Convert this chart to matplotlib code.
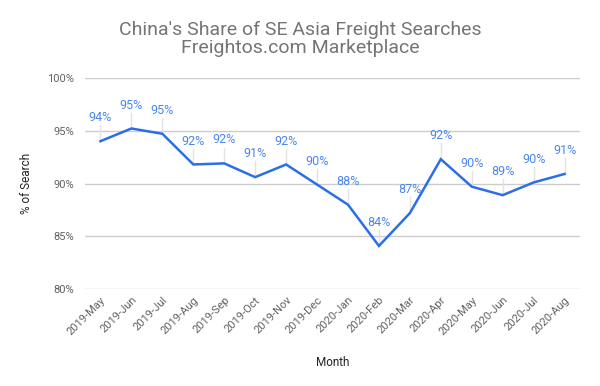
import matplotlib
matplotlib.use("Agg")
import matplotlib.pyplot as plt
from matplotlib.ticker import FuncFormatter

months = ["2019-May", "2019-Jun", "2019-Jul", "2019-Aug", "2019-Sep", "2019-Oct",
          "2019-Nov", "2019-Dec", "2020-Jan", "2020-Feb", "2020-Mar", "2020-Apr",
          "2020-May", "2020-Jun", "2020-Jul", "2020-Aug"]
share = [94.0, 95.2, 94.7, 91.8, 91.9, 90.6, 91.8, 89.9, 88.0, 84.1, 87.2, 92.3,
         89.7, 88.9, 90.1, 90.9]
labels = ["94%", "95%", "95%", "92%", "92%", "91%", "92%", "90%", "88%", "84%",
          "87%", "92%", "90%", "89%", "90%", "91%"]
yticks = [80, 85, 90, 95, 100]

plt.rcParams['font.family'] = ['Roboto', 'DejaVu Sans']

fig = plt.figure(figsize=(6, 3.86), dpi=100)
ax = fig.add_axes([0.1417, 0.2505, 0.825, 0.5482])

x = list(range(len(months)))
line_color = "#2a6fe6"
label_color = "#4a86ee"
grey = "#757575"

ax.plot(x, share, color=line_color, lw=1.8, zorder=3, solid_joinstyle="miter")

stem = 1.5
for xi, v, lab in zip(x, share, labels):
    ax.plot([xi, xi], [v, v + stem], color="#e3e3e3", lw=1, zorder=2)
    ax.text(xi, v + stem + 0.1, lab, color=label_color, fontsize=9,
            ha="center", va="bottom", zorder=4)

ax.set_xlim(-0.5, len(months) - 0.5)
ax.set_ylim(80, 100)
ax.set_yticks(yticks)
ax.yaxis.set_major_formatter(FuncFormatter(lambda v, p: f"{v:.0f}%"))
ax.set_xticks(x)
ax.set_xticklabels(months, rotation=45, ha="right", rotation_mode="anchor")
ax.tick_params(axis="both", length=0, colors="#616161", labelsize=8)
ax.tick_params(axis="x", pad=4)
ax.tick_params(axis="y", pad=8)
ax.grid(axis="y", color="#cccccc", lw=1)
ax.set_axisbelow(True)
for s in ax.spines.values():
    s.set_visible(False)

ax.set_xlabel("Month", color="#222222", fontsize=8.5, labelpad=14)
ax.set_ylabel("% of Search", color="#222222", fontsize=8.5, labelpad=10)

fig.text(0.5, 0.899, "China's Share of SE Asia Freight Searches\nFreightos.com Marketplace",
         ha="center", va="center", fontsize=14, color=grey, linespacing=0.95)

fig.savefig("out.png", dpi=100)
